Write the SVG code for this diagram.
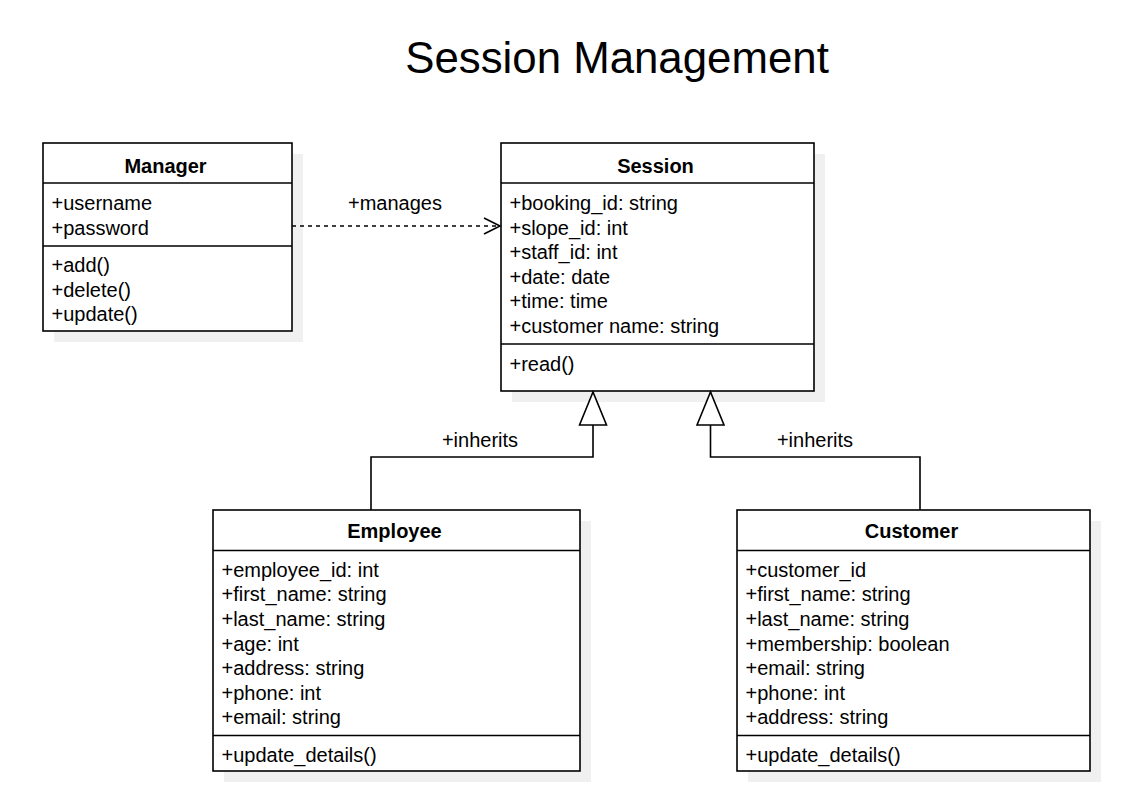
<svg xmlns="http://www.w3.org/2000/svg" width="1125" height="812" viewBox="0 0 1125 812">
<defs>
<style>
.box{fill:#fff;stroke:#000;stroke-width:1.6}
.shadow{fill:#f0f0f0;stroke:none}
.sep{stroke:#000;stroke-width:1.6;fill:none}
.hdr{font-family:"Liberation Sans",Arial,sans-serif;font-size:20px;font-weight:bold;text-anchor:middle;fill:#000}
.txt{font-family:"Liberation Sans",Arial,sans-serif;font-size:20px;fill:#000}
.lbl{font-family:"Liberation Sans",Arial,sans-serif;font-size:20px;fill:#000;text-anchor:middle}
.conn{stroke:#000;stroke-width:1.6;fill:none}
</style>
<marker id="open" viewBox="0 0 20 20" refX="18" refY="10" markerWidth="20" markerHeight="20" markerUnits="userSpaceOnUse" orient="auto">
<path d="M2,2 L18,10 L2,18" fill="none" stroke="#000" stroke-width="1.6"/>
</marker>
<marker id="tri" viewBox="0 0 36 30" refX="34" refY="15" markerWidth="36" markerHeight="30" markerUnits="userSpaceOnUse" orient="auto">
<path d="M1,1.5 L34,15 L1,28.5 Z" fill="#fff" stroke="#000" stroke-width="1.6"/>
</marker>
</defs>
<rect width="1125" height="812" fill="#fff"/>
<text x="617" y="73" font-family="Liberation Sans, Arial, sans-serif" font-size="43.8" text-anchor="middle" fill="#000">Session Management</text>

<g id="Manager">
<rect class="shadow" x="54" y="154" width="249" height="188"/>
<rect class="box" x="43" y="143" width="249" height="188"/>
<line class="sep" x1="43" y1="183" x2="292" y2="183"/>
<line class="sep" x1="43" y1="246" x2="292" y2="246"/>
<text class="hdr" x="165.5" y="173">Manager</text>
<text class="txt" x="51.5" y="210">+username</text>
<text class="txt" x="51.5" y="235">+password</text>
<text class="txt" x="51.5" y="272">+add()</text>
<text class="txt" x="51.5" y="297">+delete()</text>
<text class="txt" x="51.5" y="321">+update()</text>
</g>

<g id="Session">
<rect class="shadow" x="512" y="154" width="313" height="248"/>
<rect class="box" x="501" y="143" width="313" height="248"/>
<line class="sep" x1="501" y1="183" x2="814" y2="183"/>
<line class="sep" x1="501" y1="344" x2="814" y2="344"/>
<text class="hdr" x="655.5" y="173">Session</text>
<text class="txt" x="509.5" y="210">+booking_id: string</text>
<text class="txt" x="509.5" y="235">+slope_id: int</text>
<text class="txt" x="509.5" y="259">+staff_id: int</text>
<text class="txt" x="509.5" y="284">+date: date</text>
<text class="txt" x="509.5" y="308">+time: time</text>
<text class="txt" x="509.5" y="333">+customer name: string</text>
<text class="txt" x="509.5" y="371">+read()</text>
</g>

<g id="Employee">
<rect class="shadow" x="224" y="521" width="367" height="261"/>
<rect class="box" x="213" y="510" width="367" height="261"/>
<line class="sep" x1="213" y1="550.5" x2="580" y2="550.5"/>
<line class="sep" x1="213" y1="735.5" x2="580" y2="735.5"/>
<text class="hdr" x="394.5" y="538">Employee</text>
<text class="txt" x="221.5" y="577">+employee_id: int</text>
<text class="txt" x="221.5" y="601">+first_name: string</text>
<text class="txt" x="221.5" y="626">+last_name: string</text>
<text class="txt" x="221.5" y="651">+age: int</text>
<text class="txt" x="221.5" y="675">+address: string</text>
<text class="txt" x="221.5" y="700">+phone: int</text>
<text class="txt" x="221.5" y="724">+email: string</text>
<text class="txt" x="221.5" y="762">+update_details()</text>
</g>

<g id="Customer">
<rect class="shadow" x="748" y="521" width="353" height="261"/>
<rect class="box" x="737" y="510" width="353" height="261"/>
<line class="sep" x1="737" y1="550.5" x2="1090" y2="550.5"/>
<line class="sep" x1="737" y1="735.5" x2="1090" y2="735.5"/>
<text class="hdr" x="911.5" y="538">Customer</text>
<text class="txt" x="745.5" y="577">+customer_id</text>
<text class="txt" x="745.5" y="601">+first_name: string</text>
<text class="txt" x="745.5" y="626">+last_name: string</text>
<text class="txt" x="745.5" y="651">+membership: boolean</text>
<text class="txt" x="745.5" y="675">+email: string</text>
<text class="txt" x="745.5" y="700">+phone: int</text>
<text class="txt" x="745.5" y="724">+address: string</text>
<text class="txt" x="745.5" y="762">+update_details()</text>
</g>

<g id="connectors">
<path class="conn" d="M292,226 L500,226" stroke-dasharray="4 4" marker-end="url(#open)"/>
<text class="lbl" x="395" y="210">+manages</text>
<path class="conn" d="M371,510 L371,457 L593,457 L593,392" marker-end="url(#tri)"/>
<text class="lbl" x="480" y="447">+inherits</text>
<path class="conn" d="M920,510 L920,457 L710.5,457 L710.5,392" marker-end="url(#tri)"/>
<text class="lbl" x="815" y="447">+inherits</text>
</g>
</svg>
